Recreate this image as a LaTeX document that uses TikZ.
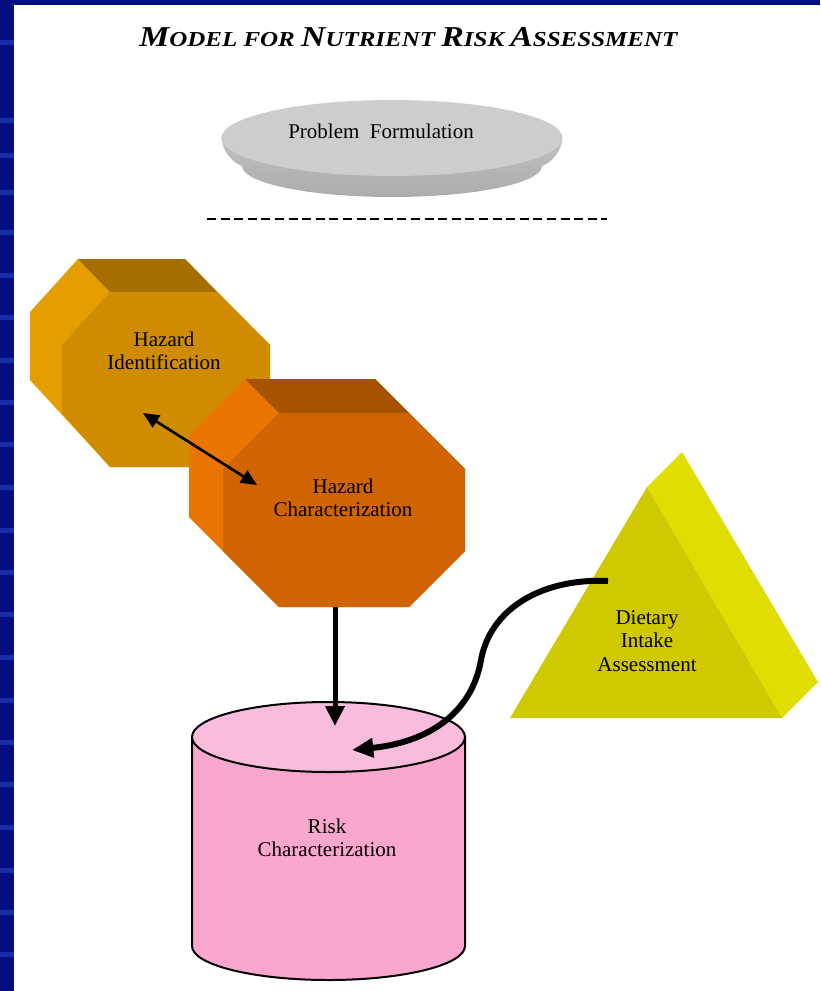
\documentclass[tikz,border=0pt]{standalone}
\usepackage{fontspec}
\setmainfont{Liberation Serif}
\usetikzlibrary{arrows.meta}
\definecolor{navy}{RGB}{4,14,128}
\definecolor{navyband}{RGB}{22,46,168}
\definecolor{hiFront}{RGB}{208,140,0}
\definecolor{hiTop}{RGB}{166,110,0}
\definecolor{hiSide}{RGB}{228,158,0}
\definecolor{hcFront}{RGB}{208,100,0}
\definecolor{hcTop}{RGB}{166,82,0}
\definecolor{hcSide}{RGB}{234,116,0}
\definecolor{triFront}{RGB}{208,200,0}
\definecolor{triSide}{RGB}{224,222,0}
\definecolor{cylSide}{RGB}{250,166,206}
\definecolor{cylTop}{RGB}{250,188,220}
\definecolor{dishTop}{RGB}{205,205,205}
\definecolor{dishRimA}{RGB}{192,192,192}
\definecolor{dishRimB}{RGB}{172,172,172}
\newcommand\tsc[1]{{\fontsize{7.4}{8}\selectfont #1}}
\begin{document}
\begin{tikzpicture}[x=0.75pt,y=-0.75pt,
  lbl/.style={font=\fontsize{15.75}{17.6}\selectfont, align=center, inner sep=0pt, text=black},
  thinarrow/.style={line width=2pt, {Triangle[length=12pt,width=10.5pt]}-{Triangle[length=12pt,width=10.5pt]}},
  thickarrow/.style={line width=3.75pt, -{Triangle[length=15pt,width=14pt]}},
  curvearrow/.style={line width=4.5pt, -{Triangle[length=16pt,width=14pt]}}]
\useasboundingbox (0,0) rectangle (820,991);
\fill[white] (0,0) rectangle (820,991);
% slide border
\fill[navy] (0,0) rectangle (820,5);
\fill[navy] (0,0) rectangle (14,991);
\foreach \yy in {40,118,153,190,230,273,315,358,400,442,485,528,570,612,655,698,740,782,825,868,910,952}
  \fill[navyband] (0,\yy) rectangle (14,\yy+5);
% title
\node[anchor=base west, inner sep=0pt] (title) at (139,47)
  {\resizebox{403.5pt}{14.25pt}{\bfseries\itshape\fontsize{10}{12}\selectfont M\tsc{ODEL FOR }N\tsc{UTRIENT }R\tsc{ISK }A\tsc{SSESSMENT}}};
% problem formulation dish
\shade[top color=dishRimA, bottom color=dishRimB]
  (221.5,138) .. controls (223,152) and (232,162) .. (242,166)
  arc[start angle=180, end angle=0, x radius=150, y radius=31]
  .. controls (552,162) and (561,152) .. (562.5,138) -- cycle;
\fill[dishTop] (392,138) ellipse [x radius=170.5, y radius=38];
\node[lbl] (pf) at (381,131) {Problem\ \ Formulation};
% dashed separator
\coordinate (dl) at (207,219);
\coordinate (dr) at (607,219);
\draw[line width=2.1pt, dash pattern=on 6.8pt off 3.4pt] (dl) -- (dr);
% hazard identification prism
\fill[hiSide] (78,259) -- (185,259) -- (270,345) -- (270,413) -- (217,467) -- (110,467) -- (30,380) -- (30,312) -- cycle;
\fill[hiTop] (78,259) -- (185,259) -- (217,292) -- (110,292) -- cycle;
\fill[hiFront] (110,292) -- (217,292) -- (270,345) -- (270,413) -- (217,467) -- (110,467) -- (62,413) -- (62,345) -- cycle;
\node[lbl] (hi) at (164,351) {Hazard\\Identification};
% hazard characterization prism
\fill[hcSide] (245,379) -- (375,379) -- (465,469) -- (465,551) -- (409,607) -- (279,607) -- (189,517) -- (189,435) -- cycle;
\fill[hcTop] (245,379) -- (375,379) -- (409,413) -- (279,413) -- cycle;
\fill[hcFront] (279,413) -- (409,413) -- (465,469) -- (465,551) -- (409,607) -- (279,607) -- (223,551) -- (223,469) -- cycle;
\node[lbl] (hc) at (343,498) {Hazard\\Characterization};
% dietary intake pyramid
\fill[triSide] (647,487) -- (682,452) -- (818,682) -- (782,718) -- cycle;
\fill[triFront] (647,487) -- (510,718) -- (782,718) -- cycle;
\node[lbl] (di) at (647,641) {Dietary\\Intake\\Assessment};
% risk characterization cylinder
\filldraw[fill=cylSide, draw=black, line width=1.5pt]
  (192,737) -- (192,946) arc[start angle=180, end angle=0, x radius=136.5, y radius=34] -- (465,737) -- cycle;
\filldraw[fill=cylTop, draw=black, line width=1.5pt] (328.5,737) ellipse [x radius=136.5, y radius=35];
\node[lbl] (rc) at (327,838) {Risk\\Characterization};
% connectors
\coordinate (hiA) at (143,413);
\coordinate (hcA) at (257,485);
\draw[thinarrow] (hiA) -- (hcA);
\coordinate (hcB) at (335,607);
\coordinate (rcT) at (335,726);
\draw[thickarrow] (hcB) -- (rcT);
\coordinate (diS) at (608,581);
\coordinate (rcC) at (352,750);
\draw[curvearrow] (diS) .. controls (540,578) and (490,610) .. (481,660)
  .. controls (472,712) and (430,742) .. (rcC);
\end{tikzpicture}
\end{document}
